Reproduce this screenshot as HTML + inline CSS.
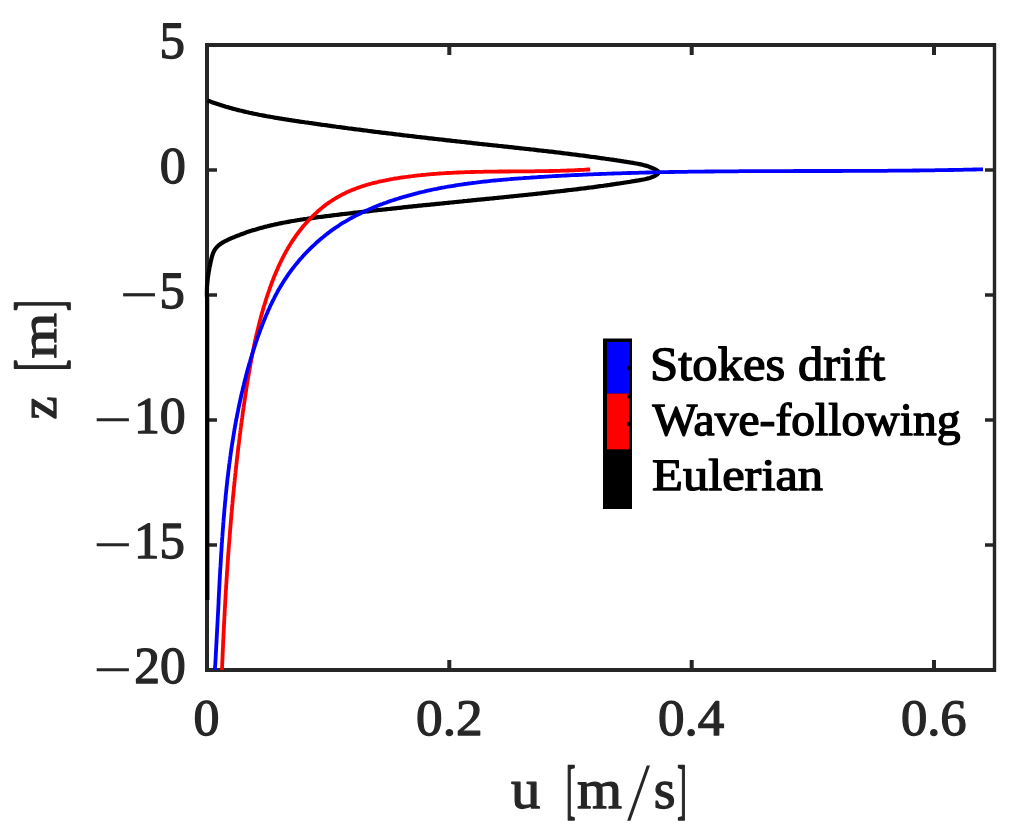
<!DOCTYPE html>
<html><head><meta charset="utf-8"><title>Velocity profiles</title>
<style>html,body{margin:0;padding:0;background:#fff}svg{display:block}</style></head>
<body><svg width="1018" height="836" viewBox="0 0 1018 836" text-rendering="geometricPrecision">
<rect x="0" y="0" width="1018" height="836" fill="#fff"/>
<g stroke="#262626" stroke-width="4" fill="none" stroke-linecap="butt">
<path d="M205,45 H996 M205,670 H996"/>
<path d="M207,45 V600"/>
<path d="M207,45 V672" />
<path d="M994.5,43 V672" stroke-width="3.4"/>
<path d="M449.3,45 V55 M449.3,670 V660"/>
<path d="M691.7,45 V55 M691.7,670 V660"/>
<path d="M934.0,45 V55 M934.0,670 V660"/>
<path d="M207,170 H217 M994.5,170 H985" stroke-width="3.4"/>
<path d="M207,295 H217 M994.5,295 H985" stroke-width="3.4"/>
<path d="M207,420 H217 M994.5,420 H985" stroke-width="3.4"/>
<path d="M207,545 H217 M994.5,545 H985" stroke-width="3.4"/>
</g>
<g fill="none" stroke-linejoin="round" stroke-linecap="butt" stroke-width="3.8">
<path d="M207.5,100.5 L209.1,101.0 L210.6,101.6 L212.1,102.2 L213.6,102.7 L215.2,103.2 L216.7,103.7 L218.2,104.2 L219.8,104.7 L221.3,105.2 L222.8,105.7 L224.4,106.2 L225.9,106.7 L227.5,107.1 L229.0,107.6 L230.6,108.0 L232.1,108.4 L233.7,108.9 L235.2,109.3 L236.8,109.7 L238.4,110.1 L239.9,110.5 L241.5,110.8 L243.0,111.2 L244.6,111.6 L246.2,112.0 L247.8,112.3 L249.3,112.7 L250.9,113.0 L252.5,113.4 L254.0,113.7 L255.6,114.0 L257.2,114.3 L258.8,114.7 L260.4,115.0 L261.9,115.3 L263.5,115.6 L265.1,115.9 L266.7,116.2 L268.3,116.5 L269.9,116.7 L271.4,117.0 L273.0,117.3 L274.6,117.6 L276.2,117.8 L277.8,118.1 L279.4,118.4 L281.0,118.6 L282.6,118.9 L284.2,119.1 L285.7,119.4 L287.3,119.6 L288.9,119.9 L290.5,120.1 L292.1,120.4 L293.7,120.6 L295.3,120.9 L296.9,121.1 L298.5,121.3 L300.1,121.6 L301.7,121.8 L303.3,122.0 L304.9,122.3 L306.5,122.5 L308.1,122.7 L309.7,123.0 L311.3,123.2 L312.9,123.4 L314.5,123.7 L316.1,123.9 L317.7,124.1 L319.3,124.3 L320.9,124.6 L322.4,124.8 L324.0,125.0 L325.6,125.2 L327.2,125.4 L328.8,125.7 L330.4,125.9 L332.0,126.1 L333.6,126.3 L335.2,126.5 L336.8,126.8 L338.4,127.0 L340.0,127.2 L341.6,127.4 L343.2,127.6 L344.8,127.8 L346.4,128.0 L348.0,128.3 L349.6,128.5 L351.2,128.7 L352.8,128.9 L354.4,129.1 L356.0,129.3 L357.6,129.5 L359.2,129.7 L360.8,129.9 L362.4,130.1 L364.0,130.3 L365.6,130.5 L367.2,130.7 L368.8,131.0 L370.4,131.2 L372.0,131.4 L373.6,131.6 L375.2,131.8 L376.8,132.0 L378.4,132.2 L380.0,132.4 L381.6,132.6 L383.2,132.8 L384.8,132.9 L386.4,133.1 L388.0,133.3 L389.6,133.5 L391.2,133.7 L392.8,133.9 L394.4,134.1 L396.0,134.3 L397.6,134.5 L399.2,134.7 L400.8,134.9 L402.4,135.1 L404.0,135.3 L405.6,135.5 L407.2,135.6 L408.8,135.8 L410.4,136.0 L412.0,136.2 L413.6,136.4 L415.2,136.6 L416.8,136.8 L418.4,137.0 L420.0,137.1 L421.6,137.3 L423.2,137.5 L424.8,137.7 L426.4,137.9 L428.0,138.1 L429.6,138.3 L431.2,138.4 L432.9,138.6 L434.5,138.8 L436.1,139.0 L437.7,139.2 L439.3,139.3 L440.9,139.5 L442.5,139.7 L444.1,139.9 L445.7,140.1 L447.3,140.3 L448.9,140.4 L450.5,140.6 L452.1,140.8 L453.7,141.0 L455.3,141.1 L456.9,141.3 L458.5,141.5 L460.1,141.7 L461.7,141.9 L463.3,142.0 L464.9,142.2 L466.5,142.4 L468.1,142.6 L469.7,142.7 L471.3,142.9 L472.9,143.1 L474.5,143.3 L476.1,143.4 L477.7,143.6 L479.3,143.8 L480.9,144.0 L482.5,144.1 L484.1,144.3 L485.7,144.5 L487.3,144.6 L488.9,144.8 L490.5,145.0 L492.1,145.2 L493.7,145.3 L495.3,145.5 L496.9,145.7 L498.5,145.9 L500.1,146.0 L501.7,146.2 L503.3,146.4 L504.9,146.6 L506.5,146.7 L508.1,146.9 L509.7,147.1 L511.3,147.2 L512.9,147.4 L514.5,147.6 L516.1,147.8 L517.7,147.9 L519.4,148.1 L521.0,148.3 L522.6,148.5 L524.2,148.7 L525.8,148.8 L527.4,149.0 L529.0,149.2 L530.6,149.4 L532.2,149.5 L533.8,149.7 L535.4,149.9 L537.0,150.1 L538.6,150.3 L540.2,150.5 L541.8,150.6 L543.4,150.8 L545.0,151.0 L546.6,151.2 L548.2,151.4 L549.8,151.6 L551.4,151.7 L553.0,151.9 L554.6,152.1 L556.2,152.3 L557.8,152.5 L559.4,152.7 L561.0,152.9 L562.6,153.1 L564.2,153.3 L565.8,153.5 L567.4,153.7 L569.0,153.9 L570.6,154.1 L572.2,154.3 L573.8,154.5 L575.4,154.7 L577.0,154.9 L578.6,155.1 L580.2,155.3 L581.8,155.5 L583.4,155.7 L585.0,155.9 L586.6,156.1 L588.2,156.3 L589.8,156.6 L591.4,156.8 L593.0,157.0 L594.6,157.2 L596.2,157.4 L597.8,157.6 L599.4,157.9 L601.0,158.1 L602.6,158.3 L604.2,158.5 L605.8,158.8 L607.4,159.0 L609.0,159.2 L610.6,159.5 L612.2,159.7 L613.8,159.9 L615.4,160.2 L617.0,160.4 L618.6,160.7 L620.2,160.9 L621.7,161.2 L623.3,161.4 L624.9,161.7 L626.5,161.9 L628.1,162.2 L629.7,162.4 L631.3,162.7 L632.9,162.9 L634.5,163.2 L636.1,163.5 L637.7,163.8 L639.3,164.1 L640.9,164.4 L642.5,164.8 L644.0,165.2 L645.6,165.6 L647.1,166.1 L648.7,166.6 L650.2,167.2 L651.7,167.8 L653.2,168.5 L654.7,169.2 L656.2,169.9 L657.5,170.8 L658.4,171.6 L658.6,172.6 L658.1,173.5 L657.1,174.4 L655.8,175.3 L654.3,176.1 L652.8,176.8 L651.3,177.4 L649.8,178.0 L648.2,178.4 L646.6,178.8 L645.0,179.2 L643.4,179.5 L641.8,179.8 L640.2,180.1 L638.5,180.4 L636.9,180.6 L635.3,180.9 L633.7,181.2 L632.1,181.4 L630.5,181.7 L628.9,182.0 L627.3,182.2 L625.7,182.5 L624.1,182.7 L622.5,183.0 L620.9,183.2 L619.3,183.5 L617.7,183.7 L616.1,183.9 L614.5,184.2 L612.9,184.4 L611.3,184.6 L609.7,184.9 L608.1,185.1 L606.5,185.3 L604.9,185.5 L603.3,185.8 L601.7,186.0 L600.1,186.2 L598.5,186.4 L596.9,186.6 L595.4,186.8 L593.8,187.1 L592.2,187.3 L590.6,187.5 L589.0,187.7 L587.4,187.9 L585.8,188.1 L584.2,188.3 L582.6,188.5 L581.0,188.7 L579.4,188.9 L577.8,189.1 L576.2,189.3 L574.6,189.5 L573.0,189.7 L571.5,189.8 L569.9,190.0 L568.3,190.2 L566.7,190.4 L565.1,190.6 L563.5,190.8 L561.9,191.0 L560.3,191.2 L558.7,191.3 L557.1,191.5 L555.5,191.7 L553.9,191.9 L552.3,192.1 L550.7,192.2 L549.1,192.4 L547.4,192.6 L545.8,192.8 L544.2,192.9 L542.6,193.1 L541.0,193.3 L539.4,193.5 L537.8,193.6 L536.2,193.8 L534.6,194.0 L533.0,194.2 L531.4,194.3 L529.8,194.5 L528.2,194.7 L526.6,194.8 L525.0,195.0 L523.4,195.2 L521.8,195.3 L520.2,195.5 L518.6,195.7 L517.0,195.8 L515.3,196.0 L513.7,196.2 L512.1,196.3 L510.5,196.5 L508.9,196.7 L507.3,196.8 L505.7,197.0 L504.1,197.2 L502.5,197.3 L500.9,197.5 L499.3,197.6 L497.7,197.8 L496.1,198.0 L494.5,198.1 L492.9,198.3 L491.3,198.5 L489.7,198.6 L488.0,198.8 L486.4,198.9 L484.8,199.1 L483.2,199.3 L481.6,199.4 L480.0,199.6 L478.4,199.7 L476.8,199.9 L475.2,200.1 L473.6,200.2 L472.0,200.4 L470.4,200.6 L468.8,200.7 L467.2,200.9 L465.6,201.0 L464.0,201.2 L462.4,201.4 L460.8,201.5 L459.2,201.7 L457.6,201.8 L456.0,202.0 L454.4,202.2 L452.8,202.3 L451.2,202.5 L449.6,202.6 L447.9,202.8 L446.3,203.0 L444.7,203.1 L443.1,203.3 L441.5,203.5 L439.9,203.6 L438.3,203.8 L436.7,203.9 L435.1,204.1 L433.5,204.3 L431.9,204.4 L430.3,204.6 L428.7,204.8 L427.1,204.9 L425.5,205.1 L423.9,205.2 L422.3,205.4 L420.7,205.6 L419.1,205.7 L417.5,205.9 L415.9,206.1 L414.3,206.2 L412.7,206.4 L411.1,206.6 L409.5,206.7 L407.9,206.9 L406.3,207.1 L404.7,207.2 L403.1,207.4 L401.5,207.6 L399.9,207.8 L398.3,207.9 L396.7,208.1 L395.1,208.3 L393.5,208.4 L391.9,208.6 L390.3,208.8 L388.7,209.0 L387.1,209.1 L385.5,209.3 L383.9,209.5 L382.3,209.7 L380.7,209.8 L379.1,210.0 L377.4,210.2 L375.8,210.4 L374.2,210.5 L372.6,210.7 L371.0,210.9 L369.4,211.1 L367.8,211.3 L366.2,211.4 L364.6,211.6 L363.0,211.8 L361.4,212.0 L359.8,212.2 L358.2,212.3 L356.6,212.5 L355.0,212.7 L353.4,212.9 L351.8,213.1 L350.2,213.3 L348.6,213.5 L347.0,213.7 L345.4,213.8 L343.8,214.0 L342.2,214.2 L340.6,214.4 L339.0,214.6 L337.4,214.8 L335.8,215.0 L334.2,215.2 L332.6,215.4 L331.0,215.6 L329.4,215.8 L327.8,216.0 L326.2,216.2 L324.6,216.4 L323.0,216.6 L321.4,216.8 L319.8,217.0 L318.2,217.2 L316.6,217.4 L315.0,217.6 L313.4,217.9 L311.8,218.1 L310.2,218.3 L308.6,218.5 L307.0,218.8 L305.4,219.0 L303.8,219.2 L302.2,219.5 L300.6,219.7 L299.0,220.0 L297.4,220.2 L295.8,220.5 L294.2,220.8 L292.6,221.0 L291.1,221.3 L289.5,221.6 L287.9,221.9 L286.3,222.2 L284.7,222.5 L283.1,222.8 L281.6,223.1 L280.0,223.4 L278.4,223.7 L276.8,224.1 L275.3,224.4 L273.7,224.8 L272.1,225.1 L270.6,225.5 L269.0,225.9 L267.4,226.3 L265.9,226.6 L264.3,227.0 L262.8,227.5 L261.2,227.9 L259.7,228.3 L258.1,228.7 L256.6,229.2 L255.0,229.7 L253.5,230.1 L251.9,230.6 L250.4,231.1 L248.9,231.6 L247.3,232.1 L245.8,232.6 L244.3,233.2 L242.8,233.7 L241.3,234.3 L239.7,234.9 L238.2,235.4 L236.7,236.0 L235.2,236.6 L233.7,237.3 L232.2,237.9 L230.7,238.5 L229.2,239.2 L227.7,239.9 L226.3,240.6 L224.8,241.3 L223.4,242.1 L222.0,242.9 L220.7,243.8 L219.5,244.7 L218.3,245.7 L217.1,246.8 L216.1,248.0 L215.2,249.2 L214.3,250.6 L213.6,252.0 L212.9,253.6 L212.4,255.2 L211.9,256.8 L211.5,258.5 L211.1,260.1 L210.7,261.7 L210.4,263.3 L210.1,264.9 L209.7,266.4 L209.4,267.9 L209.2,269.5 L208.9,271.1 L208.6,272.6 L208.4,274.2 L208.1,275.8 L207.9,277.4 L207.7,279.0 L207.6,280.7 L207.4,282.3 L207.3,283.9 L207.1,285.5 L207.0,287.2 L207.0,288.8 L206.9,290.4 L206.9,292.0 L206.9,293.6 L206.9,295.2 L207.0,296.8 L207.1,298.4 L207.2,300.0 L207.3,600" stroke="#000" stroke-width="4.2"/>
<path d="M590.2,169.4 L588.9,169.5 L587.6,169.5 L586.4,169.6 L585.1,169.7 L583.8,169.8 L582.6,169.8 L581.3,169.9 L580.1,170.0 L578.8,170.0 L577.5,170.1 L576.3,170.2 L575.0,170.2 L573.7,170.3 L572.5,170.3 L571.2,170.4 L569.9,170.4 L568.7,170.5 L567.4,170.5 L566.1,170.6 L564.9,170.6 L563.6,170.7 L562.4,170.7 L561.1,170.7 L559.8,170.8 L558.6,170.8 L557.3,170.9 L556.0,170.9 L554.8,170.9 L553.5,170.9 L552.2,171.0 L551.0,171.0 L549.7,171.0 L548.4,171.1 L547.2,171.1 L545.9,171.1 L544.6,171.1 L543.4,171.1 L542.1,171.2 L540.9,171.2 L539.6,171.2 L538.3,171.2 L537.1,171.2 L535.8,171.2 L534.5,171.3 L533.3,171.3 L532.0,171.3 L530.7,171.3 L529.5,171.3 L528.2,171.3 L526.9,171.3 L525.7,171.3 L524.4,171.3 L523.1,171.4 L521.9,171.4 L520.6,171.4 L519.3,171.4 L518.1,171.4 L516.8,171.4 L515.6,171.4 L514.3,171.4 L513.0,171.4 L511.8,171.4 L510.5,171.4 L509.2,171.5 L508.0,171.5 L506.7,171.5 L505.4,171.5 L504.2,171.5 L502.9,171.5 L501.6,171.5 L500.4,171.5 L499.1,171.5 L497.8,171.6 L496.6,171.6 L495.3,171.6 L494.0,171.6 L492.8,171.6 L491.5,171.6 L490.3,171.6 L489.0,171.7 L487.7,171.7 L486.5,171.7 L485.2,171.7 L483.9,171.7 L482.7,171.8 L481.4,171.8 L480.1,171.8 L478.9,171.8 L477.6,171.9 L476.3,171.9 L475.1,171.9 L473.8,172.0 L472.5,172.0 L471.3,172.0 L470.0,172.1 L468.8,172.1 L467.5,172.1 L466.2,172.2 L465.0,172.2 L463.7,172.3 L462.4,172.3 L461.2,172.4 L459.9,172.4 L458.6,172.5 L457.4,172.5 L456.1,172.6 L454.8,172.6 L453.6,172.7 L452.3,172.8 L451.0,172.8 L449.8,172.9 L448.5,173.0 L447.3,173.0 L446.0,173.1 L444.7,173.2 L443.5,173.3 L442.2,173.3 L440.9,173.4 L439.7,173.5 L438.4,173.6 L437.1,173.7 L435.9,173.8 L434.6,173.9 L433.4,174.0 L432.1,174.1 L430.8,174.2 L429.6,174.3 L428.3,174.4 L427.0,174.5 L425.8,174.7 L424.5,174.8 L423.2,174.9 L422.0,175.0 L420.7,175.2 L419.4,175.3 L418.2,175.4 L416.9,175.6 L415.7,175.7 L414.4,175.9 L413.1,176.0 L411.9,176.2 L410.6,176.3 L409.3,176.5 L408.1,176.7 L406.8,176.8 L405.6,177.0 L404.3,177.2 L403.0,177.4 L401.8,177.5 L400.5,177.7 L399.2,177.9 L398.0,178.1 L396.7,178.3 L395.4,178.5 L394.2,178.7 L392.9,179.0 L391.7,179.2 L390.4,179.4 L389.1,179.6 L387.9,179.9 L386.6,180.1 L385.4,180.4 L384.1,180.6 L382.9,180.9 L381.6,181.1 L380.4,181.4 L379.1,181.7 L377.9,182.0 L376.7,182.3 L375.4,182.6 L374.2,182.9 L372.9,183.2 L371.7,183.5 L370.5,183.8 L369.3,184.2 L368.1,184.5 L366.8,184.9 L365.6,185.2 L364.4,185.6 L363.2,186.0 L362.0,186.4 L360.8,186.8 L359.6,187.2 L358.4,187.6 L357.3,188.0 L356.1,188.5 L354.9,188.9 L353.7,189.4 L352.6,189.8 L351.4,190.3 L350.3,190.8 L349.1,191.3 L348.0,191.8 L346.8,192.3 L345.7,192.8 L344.6,193.4 L343.5,193.9 L342.3,194.5 L341.2,195.1 L340.1,195.7 L339.1,196.3 L338.0,196.9 L336.9,197.5 L335.8,198.1 L334.8,198.8 L333.7,199.4 L332.7,200.1 L331.6,200.8 L330.6,201.5 L329.5,202.2 L328.5,202.9 L327.5,203.6 L326.5,204.3 L325.5,205.1 L324.5,205.9 L323.5,206.6 L322.5,207.4 L321.6,208.2 L320.6,209.0 L319.6,209.8 L318.7,210.6 L317.7,211.4 L316.8,212.3 L315.9,213.1 L315.0,214.0 L314.1,214.8 L313.1,215.7 L312.3,216.6 L311.4,217.5 L310.5,218.4 L309.6,219.3 L308.7,220.2 L307.9,221.1 L307.0,222.0 L306.2,223.0 L305.3,223.9 L304.5,224.9 L303.7,225.8 L302.9,226.8 L302.1,227.8 L301.3,228.8 L300.5,229.8 L299.7,230.8 L298.9,231.8 L298.2,232.8 L297.4,233.8 L296.7,234.8 L295.9,235.8 L295.2,236.9 L294.5,237.9 L293.8,239.0 L293.0,240.0 L292.4,241.1 L291.7,242.1 L291.0,243.2 L290.3,244.3 L289.6,245.4 L289.0,246.4 L288.3,247.5 L287.7,248.6 L287.1,249.7 L286.4,250.8 L285.8,251.9 L285.2,253.1 L284.6,254.2 L284.0,255.3 L283.4,256.4 L282.8,257.6 L282.3,258.7 L281.7,259.8 L281.1,261.0 L280.6,262.1 L280.0,263.3 L279.5,264.4 L278.9,265.6 L278.4,266.7 L277.9,267.9 L277.4,269.1 L276.9,270.2 L276.4,271.4 L275.9,272.6 L275.4,273.8 L274.9,274.9 L274.4,276.1 L273.9,277.3 L273.5,278.5 L273.0,279.7 L272.5,280.9 L272.1,282.1 L271.6,283.3 L271.2,284.5 L270.8,285.7 L270.3,286.9 L269.9,288.1 L269.5,289.3 L269.1,290.5 L268.7,291.7 L268.2,292.9 L267.8,294.1 L267.4,295.3 L267.0,296.5 L266.6,297.7 L266.3,298.9 L265.9,300.1 L265.5,301.3 L265.1,302.6 L264.7,303.8 L264.4,305.0 L264.0,306.2 L263.6,307.4 L263.3,308.6 L262.9,309.8 L262.6,311.1 L262.2,312.3 L261.9,313.5 L261.6,314.7 L261.2,315.9 L260.9,317.2 L260.6,318.4 L260.2,319.6 L259.9,320.8 L259.6,322.1 L259.3,323.3 L259.0,324.5 L258.7,325.7 L258.4,327.0 L258.1,328.2 L257.8,329.4 L257.5,330.6 L257.2,331.9 L256.9,333.1 L256.6,334.3 L256.3,335.6 L256.0,336.8 L255.8,338.0 L255.5,339.3 L255.2,340.5 L254.9,341.7 L254.7,343.0 L254.4,344.2 L254.1,345.4 L253.9,346.7 L253.6,347.9 L253.4,349.1 L253.1,350.4 L252.9,351.6 L252.6,352.8 L252.4,354.1 L252.1,355.3 L251.9,356.6 L251.7,357.8 L251.4,359.0 L251.2,360.3 L251.0,361.5 L250.7,362.8 L250.5,364.0 L250.3,365.2 L250.1,366.5 L249.8,367.7 L249.6,369.0 L249.4,370.2 L249.2,371.5 L249.0,372.7 L248.8,374.0 L248.6,375.2 L248.3,376.4 L248.1,377.7 L247.9,378.9 L247.7,380.2 L247.5,381.4 L247.3,382.7 L247.1,383.9 L246.9,385.2 L246.7,386.4 L246.5,387.7 L246.3,388.9 L246.1,390.2 L246.0,391.4 L245.8,392.7 L245.6,393.9 L245.4,395.2 L245.2,396.4 L245.0,397.7 L244.8,398.9 L244.6,400.2 L244.5,401.4 L244.3,402.7 L244.1,403.9 L243.9,405.2 L243.7,406.4 L243.6,407.7 L243.4,408.9 L243.2,410.2 L243.0,411.4 L242.8,412.7 L242.7,413.9 L242.5,415.2 L242.3,416.4 L242.2,417.7 L242.0,418.9 L241.8,420.2 L241.6,421.4 L241.5,422.7 L241.3,423.9 L241.1,425.2 L241.0,426.5 L240.8,427.7 L240.6,429.0 L240.5,430.2 L240.3,431.5 L240.2,432.7 L240.0,434.0 L239.8,435.2 L239.7,436.5 L239.5,437.7 L239.4,439.0 L239.2,440.3 L239.1,441.5 L238.9,442.8 L238.8,444.0 L238.6,445.3 L238.4,446.5 L238.3,447.8 L238.1,449.1 L238.0,450.3 L237.9,451.6 L237.7,452.8 L237.6,454.1 L237.4,455.3 L237.3,456.6 L237.1,457.9 L237.0,459.1 L236.8,460.4 L236.7,461.6 L236.6,462.9 L236.4,464.1 L236.3,465.4 L236.1,466.7 L236.0,467.9 L235.9,469.2 L235.7,470.4 L235.6,471.7 L235.5,473.0 L235.3,474.2 L235.2,475.5 L235.1,476.7 L234.9,478.0 L234.8,479.3 L234.7,480.5 L234.5,481.8 L234.4,483.0 L234.3,484.3 L234.2,485.6 L234.0,486.8 L233.9,488.1 L233.8,489.3 L233.7,490.6 L233.5,491.9 L233.4,493.1 L233.3,494.4 L233.2,495.6 L233.0,496.9 L232.9,498.2 L232.8,499.4 L232.7,500.7 L232.6,501.9 L232.5,503.2 L232.3,504.5 L232.2,505.7 L232.1,507.0 L232.0,508.3 L231.9,509.5 L231.8,510.8 L231.7,512.0 L231.5,513.3 L231.4,514.6 L231.3,515.8 L231.2,517.1 L231.1,518.3 L231.0,519.6 L230.9,520.9 L230.8,522.1 L230.7,523.4 L230.6,524.7 L230.5,525.9 L230.4,527.2 L230.3,528.5 L230.2,529.7 L230.1,531.0 L230.0,532.2 L229.9,533.5 L229.8,534.8 L229.7,536.0 L229.6,537.3 L229.5,538.6 L229.4,539.8 L229.3,541.1 L229.2,542.3 L229.1,543.6 L229.0,544.9 L228.9,546.1 L228.8,547.4 L228.7,548.7 L228.6,549.9 L228.5,551.2 L228.4,552.5 L228.3,553.7 L228.2,555.0 L228.1,556.2 L228.0,557.5 L228.0,558.8 L227.9,560.0 L227.8,561.3 L227.7,562.6 L227.6,563.8 L227.5,565.1 L227.4,566.4 L227.4,567.6 L227.3,568.9 L227.2,570.2 L227.1,571.4 L227.0,572.7 L226.9,573.9 L226.9,575.2 L226.8,576.5 L226.7,577.7 L226.6,579.0 L226.5,580.3 L226.5,581.5 L226.4,582.8 L226.3,584.1 L226.2,585.3 L226.1,586.6 L226.1,587.9 L226.0,589.1 L225.9,590.4 L225.8,591.6 L225.8,592.9 L225.7,594.2 L225.6,595.4 L225.5,596.7 L225.5,598.0 L225.4,599.2 L225.3,600.5 L225.2,601.8 L225.2,603.0 L225.1,604.3 L225.0,605.5 L225.0,606.8 L224.9,608.1 L224.8,609.3 L224.8,610.6 L224.7,611.9 L224.6,613.1 L224.6,614.4 L224.5,615.7 L224.4,616.9 L224.4,618.2 L224.3,619.5 L224.2,620.7 L224.2,622.0 L224.1,623.2 L224.0,624.5 L224.0,625.8 L223.9,627.0 L223.8,628.3 L223.8,629.6 L223.7,630.8 L223.7,632.1 L223.6,633.4 L223.5,634.6 L223.5,635.9 L223.4,637.1 L223.4,638.4 L223.3,639.7 L223.2,640.9 L223.2,642.2 L223.1,643.5 L223.1,644.7 L223.0,646.0 L223.0,647.2 L222.9,648.5 L222.8,649.8 L222.8,651.0 L222.7,652.3 L222.7,653.6 L222.6,654.8 L222.6,656.1 L222.5,657.3 L222.5,658.6 L222.4,659.9 L222.3,661.1 L222.3,662.4 L222.2,663.7 L222.2,664.9 L222.1,666.2 L222.1,667.4 L222.0,668.7 L222.0,670.0" stroke="#f00"/>
<path d="M983.0,169.3 L981.1,169.3 L979.2,169.4 L977.4,169.4 L975.5,169.5 L973.6,169.5 L971.7,169.6 L969.8,169.6 L967.9,169.7 L966.0,169.7 L964.1,169.7 L962.3,169.8 L960.4,169.8 L958.5,169.9 L956.6,169.9 L954.7,169.9 L952.8,170.0 L950.9,170.0 L949.0,170.0 L947.2,170.1 L945.3,170.1 L943.4,170.1 L941.5,170.2 L939.6,170.2 L937.7,170.2 L935.8,170.2 L934.0,170.3 L932.1,170.3 L930.2,170.3 L928.3,170.4 L926.4,170.4 L924.5,170.4 L922.6,170.4 L920.7,170.4 L918.9,170.5 L917.0,170.5 L915.1,170.5 L913.2,170.5 L911.3,170.6 L909.4,170.6 L907.5,170.6 L905.6,170.6 L903.8,170.6 L901.9,170.6 L900.0,170.7 L898.1,170.7 L896.2,170.7 L894.3,170.7 L892.4,170.7 L890.6,170.7 L888.7,170.7 L886.8,170.8 L884.9,170.8 L883.0,170.8 L881.1,170.8 L879.2,170.8 L877.3,170.8 L875.5,170.8 L873.6,170.8 L871.7,170.8 L869.8,170.9 L867.9,170.9 L866.0,170.9 L864.1,170.9 L862.3,170.9 L860.4,170.9 L858.5,170.9 L856.6,170.9 L854.7,170.9 L852.8,170.9 L850.9,170.9 L849.1,170.9 L847.2,170.9 L845.3,170.9 L843.4,170.9 L841.5,171.0 L839.6,171.0 L837.7,171.0 L835.8,171.0 L834.0,171.0 L832.1,171.0 L830.2,171.0 L828.3,171.0 L826.4,171.0 L824.5,171.0 L822.6,171.0 L820.8,171.0 L818.9,171.0 L817.0,171.0 L815.1,171.0 L813.2,171.0 L811.3,171.0 L809.4,171.0 L807.5,171.0 L805.7,171.0 L803.8,171.0 L801.9,171.0 L800.0,171.0 L798.1,171.0 L796.2,171.0 L794.3,171.0 L792.5,171.1 L790.6,171.1 L788.7,171.1 L786.8,171.1 L784.9,171.1 L783.0,171.1 L781.1,171.1 L779.3,171.1 L777.4,171.1 L775.5,171.1 L773.6,171.1 L771.7,171.1 L769.8,171.1 L767.9,171.1 L766.1,171.1 L764.2,171.1 L762.3,171.1 L760.4,171.1 L758.5,171.2 L756.6,171.2 L754.7,171.2 L752.9,171.2 L751.0,171.2 L749.1,171.2 L747.2,171.2 L745.3,171.2 L743.4,171.2 L741.5,171.2 L739.6,171.2 L737.8,171.3 L735.9,171.3 L734.0,171.3 L732.1,171.3 L730.2,171.3 L728.3,171.3 L726.4,171.3 L724.6,171.4 L722.7,171.4 L720.8,171.4 L718.9,171.4 L717.0,171.4 L715.1,171.4 L713.2,171.5 L711.4,171.5 L709.5,171.5 L707.6,171.5 L705.7,171.5 L703.8,171.6 L701.9,171.6 L700.0,171.6 L698.2,171.6 L696.3,171.6 L694.4,171.7 L692.5,171.7 L690.6,171.7 L688.7,171.7 L686.8,171.8 L685.0,171.8 L683.1,171.8 L681.2,171.9 L679.3,171.9 L677.4,171.9 L675.5,171.9 L673.6,172.0 L671.8,172.0 L669.9,172.0 L668.0,172.1 L666.1,172.1 L664.2,172.2 L662.3,172.2 L660.4,172.2 L658.6,172.3 L656.7,172.3 L654.8,172.4 L652.9,172.4 L651.0,172.4 L649.1,172.5 L647.2,172.5 L645.4,172.6 L643.5,172.6 L641.6,172.7 L639.7,172.7 L637.8,172.8 L635.9,172.8 L634.1,172.9 L632.2,172.9 L630.3,173.0 L628.4,173.0 L626.5,173.1 L624.6,173.1 L622.7,173.2 L620.9,173.3 L619.0,173.3 L617.1,173.4 L615.2,173.4 L613.3,173.5 L611.4,173.6 L609.5,173.6 L607.7,173.7 L605.8,173.8 L603.9,173.8 L602.0,173.9 L600.1,174.0 L598.2,174.1 L596.3,174.1 L594.5,174.2 L592.6,174.3 L590.7,174.4 L588.8,174.4 L586.9,174.5 L585.0,174.6 L583.1,174.7 L581.3,174.8 L579.4,174.9 L577.5,175.0 L575.6,175.0 L573.7,175.1 L571.8,175.2 L570.0,175.3 L568.1,175.4 L566.2,175.5 L564.3,175.6 L562.4,175.7 L560.5,175.8 L558.6,175.9 L556.8,176.0 L554.9,176.1 L553.0,176.2 L551.1,176.3 L549.2,176.4 L547.3,176.6 L545.5,176.7 L543.6,176.8 L541.7,176.9 L539.8,177.0 L537.9,177.1 L536.0,177.3 L534.1,177.4 L532.3,177.5 L530.4,177.6 L528.5,177.8 L526.6,177.9 L524.7,178.0 L522.8,178.2 L521.0,178.3 L519.1,178.4 L517.2,178.6 L515.3,178.7 L513.4,178.9 L511.5,179.0 L509.7,179.2 L507.8,179.3 L505.9,179.5 L504.0,179.6 L502.1,179.8 L500.2,180.0 L498.4,180.1 L496.5,180.3 L494.6,180.5 L492.7,180.7 L490.9,180.9 L489.0,181.1 L487.1,181.3 L485.2,181.5 L483.4,181.7 L481.5,181.9 L479.6,182.1 L477.7,182.3 L475.9,182.6 L474.0,182.8 L472.1,183.0 L470.3,183.3 L468.4,183.5 L466.5,183.8 L464.7,184.0 L462.8,184.3 L460.9,184.6 L459.1,184.9 L457.2,185.2 L455.3,185.5 L453.5,185.8 L451.6,186.1 L449.8,186.4 L447.9,186.7 L446.1,187.0 L444.2,187.4 L442.4,187.7 L440.5,188.0 L438.7,188.4 L436.8,188.8 L435.0,189.1 L433.1,189.5 L431.3,189.9 L429.5,190.3 L427.6,190.7 L425.8,191.1 L424.0,191.6 L422.1,192.0 L420.3,192.4 L418.5,192.9 L416.6,193.3 L414.8,193.8 L413.0,194.3 L411.2,194.8 L409.3,195.3 L407.5,195.8 L405.7,196.3 L403.9,196.8 L402.1,197.4 L400.3,197.9 L398.5,198.5 L396.7,199.0 L394.9,199.6 L393.1,200.2 L391.3,200.8 L389.5,201.4 L387.7,202.0 L385.9,202.7 L384.1,203.3 L382.3,204.0 L380.6,204.6 L378.8,205.3 L377.0,206.0 L375.3,206.7 L373.5,207.4 L371.8,208.2 L370.0,208.9 L368.3,209.7 L366.6,210.4 L364.9,211.2 L363.1,212.0 L361.4,212.8 L359.7,213.7 L358.1,214.5 L356.4,215.4 L354.7,216.2 L353.0,217.1 L351.4,218.0 L349.7,218.9 L348.1,219.9 L346.5,220.8 L344.8,221.8 L343.2,222.7 L341.6,223.7 L340.0,224.7 L338.5,225.8 L336.9,226.8 L335.3,227.9 L333.8,228.9 L332.2,230.0 L330.7,231.1 L329.2,232.3 L327.7,233.4 L326.2,234.5 L324.7,235.7 L323.3,236.9 L321.8,238.1 L320.4,239.3 L319.0,240.5 L317.5,241.8 L316.1,243.0 L314.8,244.3 L313.4,245.6 L312.0,246.9 L310.7,248.2 L309.3,249.5 L308.0,250.8 L306.7,252.2 L305.4,253.5 L304.1,254.9 L302.8,256.3 L301.6,257.7 L300.3,259.1 L299.1,260.5 L297.9,262.0 L296.7,263.4 L295.5,264.9 L294.3,266.4 L293.2,267.8 L292.0,269.3 L290.9,270.8 L289.8,272.4 L288.7,273.9 L287.6,275.4 L286.6,277.0 L285.5,278.6 L284.5,280.1 L283.5,281.7 L282.5,283.3 L281.5,284.9 L280.5,286.5 L279.6,288.1 L278.6,289.8 L277.7,291.4 L276.8,293.1 L275.9,294.7 L275.0,296.4 L274.2,298.1 L273.3,299.8 L272.5,301.4 L271.7,303.1 L270.8,304.8 L270.0,306.6 L269.3,308.3 L268.5,310.0 L267.7,311.7 L267.0,313.5 L266.2,315.2 L265.5,316.9 L264.8,318.7 L264.1,320.4 L263.4,322.2 L262.7,323.9 L262.0,325.7 L261.3,327.5 L260.6,329.2 L260.0,331.0 L259.3,332.8 L258.7,334.6 L258.0,336.4 L257.4,338.1 L256.8,339.9 L256.2,341.7 L255.6,343.5 L255.0,345.3 L254.4,347.1 L253.8,348.9 L253.3,350.7 L252.7,352.5 L252.1,354.3 L251.6,356.1 L251.0,357.9 L250.5,359.7 L250.0,361.5 L249.4,363.3 L248.9,365.2 L248.4,367.0 L247.9,368.8 L247.4,370.6 L246.9,372.4 L246.4,374.3 L246.0,376.1 L245.5,377.9 L245.0,379.7 L244.6,381.6 L244.1,383.4 L243.7,385.2 L243.2,387.0 L242.8,388.9 L242.4,390.7 L241.9,392.5 L241.5,394.4 L241.1,396.2 L240.7,398.0 L240.3,399.9 L239.9,401.7 L239.5,403.6 L239.1,405.4 L238.7,407.3 L238.3,409.1 L238.0,410.9 L237.6,412.8 L237.2,414.6 L236.9,416.5 L236.5,418.3 L236.2,420.2 L235.8,422.0 L235.5,423.9 L235.2,425.7 L234.8,427.6 L234.5,429.4 L234.2,431.3 L233.9,433.2 L233.6,435.0 L233.3,436.9 L233.0,438.7 L232.7,440.6 L232.4,442.4 L232.1,444.3 L231.8,446.2 L231.5,448.0 L231.3,449.9 L231.0,451.8 L230.7,453.6 L230.5,455.5 L230.2,457.4 L230.0,459.2 L229.7,461.1 L229.5,463.0 L229.2,464.8 L229.0,466.7 L228.8,468.6 L228.5,470.4 L228.3,472.3 L228.1,474.2 L227.9,476.1 L227.6,477.9 L227.4,479.8 L227.2,481.7 L227.0,483.6 L226.8,485.4 L226.6,487.3 L226.4,489.2 L226.2,491.1 L226.0,492.9 L225.8,494.8 L225.6,496.7 L225.5,498.6 L225.3,500.5 L225.1,502.3 L224.9,504.2 L224.8,506.1 L224.6,508.0 L224.4,509.9 L224.3,511.8 L224.1,513.6 L224.0,515.5 L223.8,517.4 L223.6,519.3 L223.5,521.2 L223.3,523.1 L223.2,524.9 L223.1,526.8 L222.9,528.7 L222.8,530.6 L222.6,532.5 L222.5,534.4 L222.4,536.2 L222.2,538.1 L222.1,540.0 L222.0,541.9 L221.8,543.8 L221.7,545.7 L221.6,547.6 L221.5,549.5 L221.4,551.3 L221.2,553.2 L221.1,555.1 L221.0,557.0 L220.9,558.9 L220.8,560.8 L220.7,562.7 L220.6,564.5 L220.5,566.4 L220.3,568.3 L220.2,570.2 L220.1,572.1 L220.0,574.0 L219.9,575.9 L219.8,577.8 L219.7,579.6 L219.6,581.5 L219.5,583.4 L219.4,585.3 L219.3,587.2 L219.2,589.1 L219.1,591.0 L219.0,592.9 L218.9,594.7 L218.8,596.6 L218.7,598.5 L218.6,600.4 L218.6,602.3 L218.5,604.2 L218.4,606.0 L218.3,607.9 L218.2,609.8 L218.1,611.7 L218.0,613.6 L217.9,615.5 L217.8,617.3 L217.7,619.2 L217.6,621.1 L217.5,623.0 L217.4,624.9 L217.3,626.8 L217.2,628.6 L217.1,630.5 L217.0,632.4 L216.9,634.3 L216.8,636.2 L216.7,638.0 L216.6,639.9 L216.5,641.8 L216.4,643.7 L216.3,645.5 L216.2,647.4 L216.1,649.3 L216.0,651.2 L215.9,653.0 L215.8,654.9 L215.7,656.8 L215.6,658.7 L215.5,660.5 L215.4,662.4 L215.3,664.3 L215.1,666.1 L215.0,668.0 L214.9,669.9" stroke="#00f"/>
</g>
<g font-family="'Liberation Serif', serif">
<text transform="translate(159.52,57.72) scale(0.5093,0.5263)" font-size="100" fill="#262626" stroke="#262626" stroke-width="2.51" stroke-linejoin="round">5</text>
<text transform="translate(159.69,182.83) scale(0.5224,0.5170)" font-size="100" fill="#262626" stroke="#262626" stroke-width="2.50" stroke-linejoin="round">0</text>
<text transform="translate(159.54,307.82) scale(0.5068,0.5263)" font-size="100" fill="#262626" stroke="#262626" stroke-width="2.52" stroke-linejoin="round">5</text>
<text transform="translate(133.91,432.83) scale(0.5189,0.5170)" font-size="100" fill="#262626" stroke="#262626" stroke-width="2.51" stroke-linejoin="round">10</text>
<text transform="translate(134.00,557.83) scale(0.5089,0.5209)" font-size="100" fill="#262626" stroke="#262626" stroke-width="2.52" stroke-linejoin="round">15</text>
<text transform="translate(134.16,683.03) scale(0.5152,0.5200)" font-size="100" fill="#262626" stroke="#262626" stroke-width="2.51" stroke-linejoin="round">20</text>
<text transform="translate(119.78,315.78) scale(0.6839,0.6400)" font-size="100" fill="#262626">−</text>
<text transform="translate(93.34,440.78) scale(0.6925,0.6400)" font-size="100" fill="#262626">−</text>
<text transform="translate(93.34,565.78) scale(0.6925,0.6400)" font-size="100" fill="#262626">−</text>
<text transform="translate(93.34,690.78) scale(0.6925,0.6400)" font-size="100" fill="#262626">−</text>
<text transform="translate(193.60,735.14) scale(0.5200,0.5141)" font-size="100" fill="#262626" stroke="#262626" stroke-width="2.51" stroke-linejoin="round">0</text>
<text transform="translate(416.05,734.88) scale(0.5322,0.5103)" font-size="100" fill="#262626" stroke="#262626" stroke-width="2.49" stroke-linejoin="round">0.2</text>
<text transform="translate(658.06,734.88) scale(0.5303,0.5103)" font-size="100" fill="#262626" stroke="#262626" stroke-width="2.50" stroke-linejoin="round">0.4</text>
<text transform="translate(900.88,734.88) scale(0.5260,0.5103)" font-size="100" fill="#262626" stroke="#262626" stroke-width="2.51" stroke-linejoin="round">0.6</text>
<text transform="translate(511.12,807.59) scale(0.5872,0.5638)" font-size="100" fill="#262626" stroke="#262626" stroke-width="2.26" stroke-linejoin="round">u</text>
<text transform="translate(565.93,810.93) scale(0.2831,0.6530)" font-size="100" fill="#262626" stroke="#262626" stroke-width="3.02" stroke-linejoin="round">[</text>
<text transform="translate(576.99,807.55) scale(0.5791,0.5511)" font-size="100" fill="#262626" stroke="#262626" stroke-width="2.30" stroke-linejoin="round">m</text>
<text transform="translate(627.27,819.57) skewX(-4.54) scale(0.6627,0.8284)" font-size="100" fill="#262626">/</text>
<text transform="translate(653.71,807.60) scale(0.5600,0.5521)" font-size="100" fill="#262626" stroke="#262626" stroke-width="2.34" stroke-linejoin="round">s</text>
<text transform="translate(677.27,810.93) scale(0.2800,0.6530)" font-size="100" fill="#262626" stroke="#262626" stroke-width="3.04" stroke-linejoin="round">]</text>
<text transform="rotate(-90) translate(-419.48,56.45) scale(0.5213,0.5196)" font-size="100" fill="#262626" stroke="#262626" stroke-width="2.50" stroke-linejoin="round">z</text>
<text transform="rotate(-90) translate(-371.05,61.04) scale(0.3461,0.6675)" font-size="100" fill="#262626" stroke="#262626" stroke-width="2.70" stroke-linejoin="round">[</text>
<text transform="rotate(-90) translate(-358.42,56.45) scale(0.5859,0.5085)" font-size="100" fill="#262626" stroke="#262626" stroke-width="2.38" stroke-linejoin="round">m</text>
<text transform="rotate(-90) translate(-310.99,61.04) scale(0.3244,0.6675)" font-size="100" fill="#262626" stroke="#262626" stroke-width="2.79" stroke-linejoin="round">]</text>
<text transform="translate(650.08,379.82) scale(0.5067,0.4783)" font-size="100" fill="#000" stroke="#000" stroke-width="2.84" stroke-linejoin="round">Stokes drift</text>
<text transform="translate(652.50,434.61) scale(0.4758,0.4598)" font-size="100" fill="#000" stroke="#000" stroke-width="2.99" stroke-linejoin="round">Wave-following</text>
<text transform="translate(652.11,490.15) scale(0.5046,0.4482)" font-size="100" fill="#000" stroke="#000" stroke-width="2.94" stroke-linejoin="round">Eulerian</text>
</g>
<rect x="603" y="338.5" width="29" height="170.5" fill="#000"/>
<rect x="607" y="342" width="22" height="51.6" fill="#00f"/>
<rect x="607" y="393.6" width="22" height="55.7" fill="#f00"/>
<rect x="627" y="366" width="2.5" height="4" fill="#000"/>
<rect x="627" y="394.5" width="2.5" height="4" fill="#000"/>
<rect x="627" y="422" width="2.5" height="4" fill="#000"/>
</svg></body></html>
